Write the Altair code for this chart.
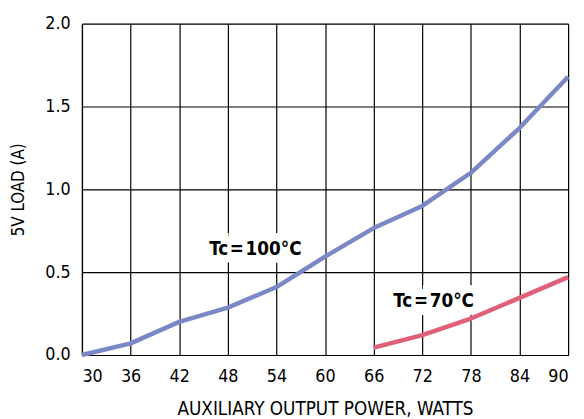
import altair as alt
import pandas as pd

FONT = "DejaVu Sans Condensed, Liberation Sans Narrow, Roboto Condensed, sans-serif"

x_ticks = [30, 36, 42, 48, 54, 60, 66, 72, 78, 84, 90]
y_ticks = [0.0, 0.5, 1.0, 1.5, 2.0]

tc100_x = [30, 36, 42, 48, 54, 60, 66, 72, 78, 84, 90]
tc100_y = [0.0, 0.07, 0.20, 0.286, 0.41, 0.594, 0.766, 0.90, 1.10, 1.37, 1.68]

tc70_x = [66, 72, 78, 84, 90]
tc70_y = [0.044, 0.12, 0.22, 0.345, 0.47]

label_text = ["Tc\u200a=\u200a100\u00b0C", "Tc\u200a=\u200a70\u00b0C"]
label_x = [51.4, 73.4]
label_y = [0.64, 0.325]

df = pd.concat([
    pd.DataFrame({"x": tc100_x, "y": tc100_y, "series": "Tc=100"}),
    pd.DataFrame({"x": tc70_x, "y": tc70_y, "series": "Tc=70"}),
])
labels = pd.DataFrame({"x": label_x, "y": label_y, "text": label_text})

xs = alt.Scale(domain=[30, 90], nice=False, zero=False)
ys = alt.Scale(domain=[0, 2.0], nice=False)

x_axis = alt.Axis(values=x_ticks, title="AUXILIARY OUTPUT POWER, WATTS",
                  labelFontSize=18, titleFontSize=19, labelFont=FONT, titleFont=FONT,
                  titleFontWeight="normal", labelPadding=13, titlePadding=14,
                  ticks=False, grid=True, gridColor="black", gridOpacity=1, gridWidth=1.2,
                  domainColor="black", domainWidth=1.2, labelColor="black", titleColor="black")
y_axis = alt.Axis(values=y_ticks, format=".1f", title="5V LOAD (A)",
                  labelFontSize=18, titleFontSize=17, labelFont=FONT, titleFont=FONT,
                  titleFontWeight="normal", labelPadding=12, titlePadding=18,
                  ticks=False, grid=True, gridColor="black", gridOpacity=1, gridWidth=1.2,
                  domainColor="black", domainWidth=1.2, labelColor="black", titleColor="black")

lines = alt.Chart(df).mark_line(strokeWidth=4.5, interpolate="linear", strokeJoin="round").encode(
    x=alt.X("x:Q", scale=xs, axis=x_axis),
    y=alt.Y("y:Q", scale=ys, axis=y_axis),
    color=alt.Color("series:N", scale=alt.Scale(domain=["Tc=100", "Tc=70"],
                                                range=["#7b88c6", "#e0607a"]), legend=None),
)

halo = alt.Chart(labels).mark_text(fontSize=19, fontWeight="bold", font=FONT,
                                   stroke="white", strokeWidth=16, color="white").encode(
    x=alt.X("x:Q", scale=xs), y=alt.Y("y:Q", scale=ys), text="text:N")
text = alt.Chart(labels).mark_text(fontSize=19, fontWeight="bold", font=FONT, color="black").encode(
    x=alt.X("x:Q", scale=xs), y=alt.Y("y:Q", scale=ys), text="text:N")

chart = alt.layer(halo, lines, text).properties(
    width=493, height=336,
    autosize=alt.AutoSizeParams(type="none"),
    padding={"left": 75, "top": 13, "right": 8, "bottom": 61},
).configure_view(stroke="black", strokeWidth=1.2).configure(background="white")

chart.save("out.html", embed_options={"renderer": "svg", "actions": False})
